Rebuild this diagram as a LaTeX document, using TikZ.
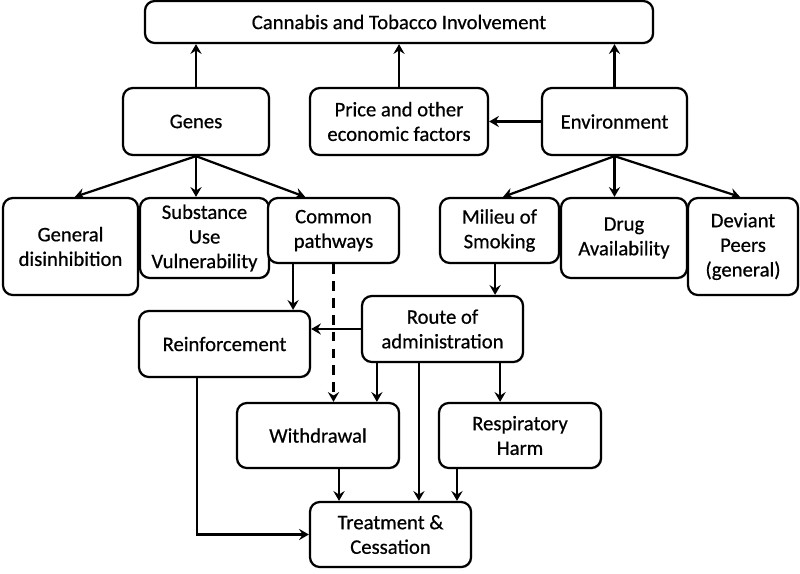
\documentclass[tikz,border=0pt]{standalone}
\usepackage{fontspec}
\setmainfont{Carlito}
\newfontfamily\boxfont{Carlito}[FakeBold=0.6]
\usepackage{tikz}
\usetikzlibrary{arrows.meta,positioning,calc,shadows}

\begin{document}
\begin{tikzpicture}[x=0.025cm, y=-0.025cm,
    box/.style={draw, line width=1.6pt, rounded corners=7pt, fill=white,
        align=center, inner sep=0pt, font=\boxfont\fontsize{14.7}{17.5}\selectfont,
        drop shadow={shadow xshift=0.8pt, shadow yshift=-0.8pt, opacity=0.35}},
    arr/.style={line width=1.6pt, -{Stealth[length=7pt, width=8pt, inset=2.5pt]}}]
\useasboundingbox (0,0) rectangle (800,573);

% 最上层
\node[box, minimum width=12.7cm, minimum height=1.05cm] (top) at (399,22) {Cannabis and Tobacco Involvement};

% 第二层
\node[box, minimum width=3.65cm, minimum height=1.675cm] (genes) at (196,121.5) {Genes};
\node[box, minimum width=4.45cm, minimum height=1.675cm] (price) at (399,121.5) {Price and other\\economic factors};
\node[box, minimum width=3.625cm, minimum height=1.675cm] (env) at (614.5,121.5) {Environment};

% 第三层
\node[box, minimum width=3.375cm, minimum height=2.425cm] (gendis) at (70.5,246.5) {General\\disinhibition};
\node[box, minimum width=3.225cm, minimum height=2.0cm] (vuln) at (204.5,238) {Substance\\Use\\Vulnerability};
\node[box, minimum width=3.275cm, minimum height=1.625cm] (cpath) at (333.5,230.5) {Common\\pathways};
\node[box, minimum width=2.975cm, minimum height=1.625cm] (milieu) at (499.5,230.5) {Milieu of\\Smoking};
\node[box, minimum width=3.15cm, minimum height=2.0cm] (drug) at (624,238) {Drug\\Availability};
\node[box, minimum width=2.75cm, minimum height=2.425cm] (peers) at (743,246.5) {Deviant\\Peers\\(general)};

% 下面几层
\node[box, minimum width=4.025cm, minimum height=1.65cm] (route) at (442.5,329) {Route of\\administration};
\node[box, minimum width=4.275cm, minimum height=1.65cm] (reinf) at (224.5,344) {Reinforcement};
\node[box, minimum width=4.05cm, minimum height=1.625cm] (withd) at (318,435.5) {Withdrawal};
\node[box, minimum width=4.05cm, minimum height=1.625cm] (resp) at (520,435.5) {Respiratory\\Harm};
\node[box, minimum width=4.025cm, minimum height=1.625cm] (treat) at (390.5,534.5) {Treatment \&\\Cessation};

% 向上的箭头
\draw[arr] (genes.north) -- (genes.north |- top.south);
\draw[arr] (price.north) -- (price.north |- top.south);
\draw[arr] (env.north) -- (env.north |- top.south);
\draw[arr] (env.west) -- (price.east);

% Genes 和 Environment 的分支
\draw[arr] (genes.south) -- ([xshift=0.11cm]gendis.north);
\draw[arr] (genes.south) -- (genes.south |- vuln.north);
\draw[arr] (genes.south) -- ([xshift=-0.71cm]cpath.north);
\draw[arr] (env.south) -- ([xshift=0.09cm]milieu.north);
\draw[arr] (env.south) -- (env.south |- drug.north);
\draw[arr] (env.south) -- ([xshift=-0.075cm]peers.north);

% 中间的箭头
\draw[arr] ([xshift=-1.01cm]cpath.south) -- ([xshift=-1.01cm]cpath.south |- reinf.north);
\draw[arr, dashed, dash pattern=on 7pt off 5pt] (cpath.south) -- (cpath.south |- withd.north);
\draw[arr] ([xshift=-0.11cm]milieu.south) -- ([xshift=-0.11cm]milieu.south |- route.north);
\draw[arr] (route.west) -- (route.west -| reinf.east);
\draw[arr] ([xshift=-1.64cm]route.south) -- ([xshift=-1.64cm]route.south |- withd.north);
\draw[arr] ([xshift=-0.59cm]route.south) -- ([xshift=-0.59cm]route.south |- treat.north);
\draw[arr] ([xshift=1.44cm]route.south) -- ([xshift=1.44cm]route.south |- resp.north);

% 到 Treatment 的箭头
\draw[arr] ([xshift=0.525cm]withd.south) -- ([xshift=0.525cm]withd.south |- treat.north);
\draw[arr] ([xshift=-1.575cm]resp.south) -- ([xshift=-1.575cm]resp.south |- treat.north);
\draw[arr] ([xshift=-0.69cm]reinf.south) |- (treat.west);
\end{tikzpicture}
\end{document}
